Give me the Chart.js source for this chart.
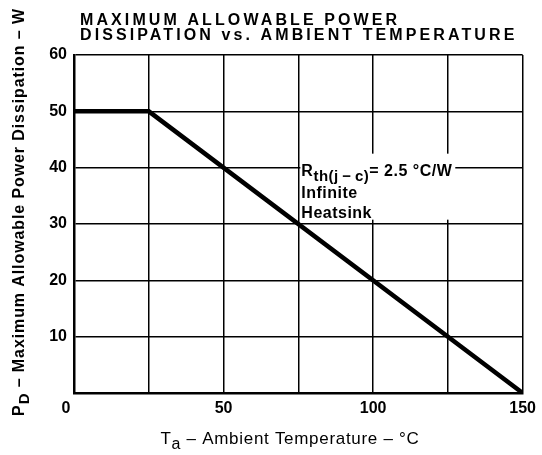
<!DOCTYPE html>
<html>
<head>
<meta charset="utf-8">
<script src="https://cdn.jsdelivr.net/npm/chart.js@4"></script>
<style>
  html, body { margin: 0; padding: 0; background: #fff; }
  #wrap { width: 542px; height: 455px; }
</style>
</head>
<body>
<div id="wrap"><canvas id="chart"></canvas></div>
<script>
// derating curve: flat 50 W up to 25 °C, then linear to 0 W at 150 °C
const temps = [0, 25, 150];
const power = [50, 50, 0];
const xTicks = [0, 50, 100, 150];
const yTicks = [10, 20, 30, 40, 50, 60];
const titleLines = ['MAXIMUM ALLOWABLE POWER', 'DISSIPATION vs. AMBIENT TEMPERATURE'];
const noteLines = ['Infinite', 'Heatsink'];

const FONT = '"Liberation Sans", Arial, sans-serif';

// draw text pieces, some of them as subscripts
function drawRuns(ctx, runs, x, y, size, weight) {
    let cx = x;
    runs.forEach(r => {
        ctx.font = weight + ' ' + (r.sub ? size - 1 : size) + 'px ' + FONT;
        ctx.fillText(r.t, cx, r.sub ? y + 5 : y);
        cx += ctx.measureText(r.t).width;
    });
}
function runsWidth(ctx, runs, size, weight) {
    let w = 0;
    runs.forEach(r => {
        ctx.font = weight + ' ' + (r.sub ? size - 1 : size) + 'px ' + FONT;
        w += ctx.measureText(r.t).width;
    });
    return w;
}

const textPlugin = {
    id: 'texts',
    afterDraw(chart) {
        const ctx = chart.ctx;
        ctx.save();
        ctx.fillStyle = '#000';
        ctx.textBaseline = 'alphabetic';
        ctx.textAlign = 'left';

        // title
        ctx.font = 'bold 16px ' + FONT;
        ctx.letterSpacing = '3.1px';
        ctx.fillText(titleLines[0], 80, 25);
        ctx.fillText(titleLines[1], 80, 40);

        // x axis title
        ctx.letterSpacing = '0.7px';
        const xRuns = [{t: 'T'}, {t: 'a', sub: true}, {t: ' \u2013 Ambient Temperature \u2013 \u00b0C'}];
        const xw = runsWidth(ctx, xRuns, 17, 'normal');
        drawRuns(ctx, xRuns, 290 - xw / 2, 444, 17, 'normal');

        // y axis title
        ctx.translate(24, 212);
        ctx.rotate(-Math.PI / 2);
        const yRuns = [{t: 'P'}, {t: 'D', sub: true}, {t: ' \u2013 Maximum Allowable Power Dissipation \u2013 W'}];
        ctx.letterSpacing = '0.9px';
        const yw = runsWidth(ctx, yRuns, 16, '600');
        drawRuns(ctx, yRuns, -yw / 2, 0, 16, '600');
        ctx.setTransform(1, 0, 0, 1, 0, 0);

        // annotation
        const xs = chart.scales.x, ys = chart.scales.y;
        const ax = xs.getPixelForValue(75) + 2;
        const ay = ys.getPixelForValue(40);
        ctx.letterSpacing = '0.5px';
        const rRuns = [{t: 'R'}, {t: 'th(j\u2009\u2212\u2009c)', sub: true}, {t: '= 2.5 \u00b0C/W'}];
        const rw = runsWidth(ctx, rRuns, 16, '600');
        ctx.fillStyle = '#fff';
        ctx.fillRect(ax, ay - 14, rw + 4, 66);
        ctx.fillStyle = '#000';
        drawRuns(ctx, rRuns, ax + 1, ay + 8, 16, '600');
        ctx.font = '600 16px ' + FONT;
        ctx.fillText(noteLines[0], ax + 1, ay + 30);
        ctx.fillText(noteLines[1], ax + 1, ay + 50);
        ctx.restore();
    }
};

new Chart(document.getElementById('chart'), {
    type: 'line',
    data: {
        datasets: [{
            data: temps.map((t, i) => ({ x: t, y: power[i] })),
            borderColor: '#000',
            borderWidth: 4.5,
            pointRadius: 0,
            tension: 0
        }]
    },
    options: {
        animation: false,
        responsive: true,
        maintainAspectRatio: false,
        layout: { padding: { left: 0, top: 55, right: 18, bottom: 0 } },
        plugins: { legend: { display: false }, tooltip: { enabled: false }, title: { display: false } },
        scales: {
            x: {
                type: 'linear', min: 0, max: 150,
                afterFit: s => { s.height = 62; },
                ticks: {
                    stepSize: 25, autoSkip: false, maxRotation: 0, padding: 6,
                    color: '#000', font: { family: FONT, size: 16, weight: 'bold' },
                    // the shared corner "0" sits a little left of the axis
                    callback: v => v === 0 ? '0\u2002\u2002' : (xTicks.includes(v) ? v : '')
                },
                grid: { color: '#000', lineWidth: 1.5, drawTicks: false },
                border: { color: '#000', width: 2.5 }
            },
            y: {
                min: 0, max: 60,
                afterFit: s => { s.width = 74; },
                ticks: {
                    stepSize: 10, autoSkip: false, padding: 7,
                    color: '#000', font: { family: FONT, size: 16, weight: 'bold' },
                    callback: v => yTicks.includes(v) ? v : ''
                },
                grid: { color: '#000', lineWidth: 1.5, drawTicks: false },
                border: { color: '#000', width: 2.5 }
            }
        }
    },
    plugins: [textPlugin]
});
</script>
</body>
</html>
